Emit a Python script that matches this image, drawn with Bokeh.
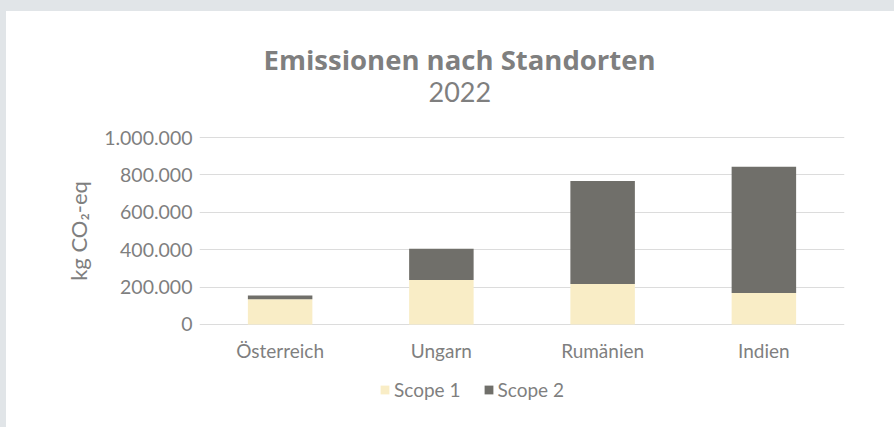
from bokeh.plotting import figure
from bokeh.layouts import column
from bokeh.models import FactorRange, Range1d, FixedTicker, Title, Legend, LegendItem, ColumnDataSource
from bokeh.embed import file_html
from bokeh.resources import INLINE

# ---- data ----
locations = ["Österreich", "Ungarn", "Rumänien", "Indien"]
scope1 = [135000, 238000, 217000, 169000]
scope2 = [20000, 167000, 551000, 675000]
series_names = ["Scope 1", "Scope 2"]
y_ticks = [0, 200000, 400000, 600000, 800000, 1000000]
y_tick_labels = ["0", "200.000", "400.000", "600.000", "800.000", "1.000.000"]
chart_title = "Emissionen nach Standorten"
chart_subtitle = "2022"
y_label = "kg CO\u2082-eq"

# ---- style ----
FONT = "Lato"
TFONT = "Open Sans"
TXT = "#7f7f7f"
C1 = "#f9edc6"
C2 = "#706f6a"
WHITE_BG = {"background-color": "white"}

source = ColumnDataSource(dict(loc=locations, s1=scope1, s2=scope2))

p = figure(
    x_range=FactorRange(*locations, range_padding=0),
    y_range=Range1d(-5350, 1005350),
    width=888, height=360,
    output_backend="svg", toolbar_location=None,
    min_border_left=193, min_border_right=50,
    min_border_top=125, min_border_bottom=46,
    outline_line_color=None,
    background_fill_color="white", border_fill_color="white",
)
p.margin = (11, 0, 0, 6)
p.styles = WHITE_BG

rs = p.vbar_stack(["s1", "s2"], x="loc", width=0.4, color=[C1, C2],
                  line_color=None, source=source)

# axes
p.yaxis.ticker = FixedTicker(ticks=y_ticks)
p.yaxis.major_label_overrides = {t: l for t, l in zip(y_ticks, y_tick_labels)}
for ax in (p.xaxis[0], p.yaxis[0]):
    ax.axis_line_color = None
    ax.major_tick_line_color = None
    ax.minor_tick_line_color = None
    ax.major_label_text_font = FONT
    ax.major_label_text_color = TXT
p.xaxis.major_label_text_font_size = "19px"
p.yaxis.major_label_text_font_size = "19.5px"
p.xaxis.major_label_standoff = 7
p.yaxis.major_label_standoff = 1
p.yaxis.axis_label = y_label
p.yaxis.axis_label_text_font = FONT
p.yaxis.axis_label_text_font_size = "22px"
p.yaxis.axis_label_text_font_style = "normal"
p.yaxis.axis_label_text_color = TXT
p.yaxis.axis_label_standoff = 9

p.xgrid.grid_line_color = None
p.ygrid.grid_line_color = "#dcdcdc"
p.ygrid.grid_line_width = 1

# titles (closest to the plot first)
p.title.visible = False
p.add_layout(Title(text=" ", text_font_size="30px", standoff=0), "above")
p.add_layout(Title(text=chart_subtitle, align="left", offset=229, standoff=0,
                   text_font=FONT, text_font_style="normal", text_font_size="27px",
                   text_color=TXT), "above")
p.add_layout(Title(text=chart_title, align="left", offset=64, standoff=4,
                   text_font=TFONT, text_font_style="bold", text_font_size="27.5px",
                   text_color=TXT), "above")

# legend strip (separate, axis-less figure below the chart)
lg = figure(
    width=888, height=56, x_range=Range1d(0, 1), y_range=Range1d(0, 1),
    x_axis_type=None, y_axis_type=None,
    output_backend="svg", toolbar_location=None,
    min_border=0, min_border_left=0, min_border_right=0,
    min_border_top=0, min_border_bottom=0,
    background_fill_color="white", border_fill_color="white",
)
lg.outline_line_color = None
lg.margin = (0, 0, 0, 6)
lg.styles = WHITE_BG
lg.title.visible = False
d1 = lg.vbar(x=[-5], top=[0], width=0.4, color=C1, line_color=None)
d2 = lg.vbar(x=[-5], top=[0], width=0.4, color=C2, line_color=None)

legend = Legend(
    items=[LegendItem(label=series_names[0], renderers=[d1]),
           LegendItem(label=series_names[1], renderers=[d2])],
    location=(180, 26), orientation="horizontal",
    glyph_width=11, glyph_height=11, label_standoff=4, spacing=22,
    padding=0, margin=0, border_line_color=None, background_fill_alpha=0,
    label_text_font=FONT, label_text_font_size="19px", label_text_color=TXT,
    label_height=20,
)
lg.add_layout(legend)

layout = column(p, lg, spacing=0)

html = file_html(layout, INLINE)
html = html.replace("</head>", "<style>html, body { background-color: #e1e5e8; }</style></head>", 1)
open("out.html", "w").write(html)
